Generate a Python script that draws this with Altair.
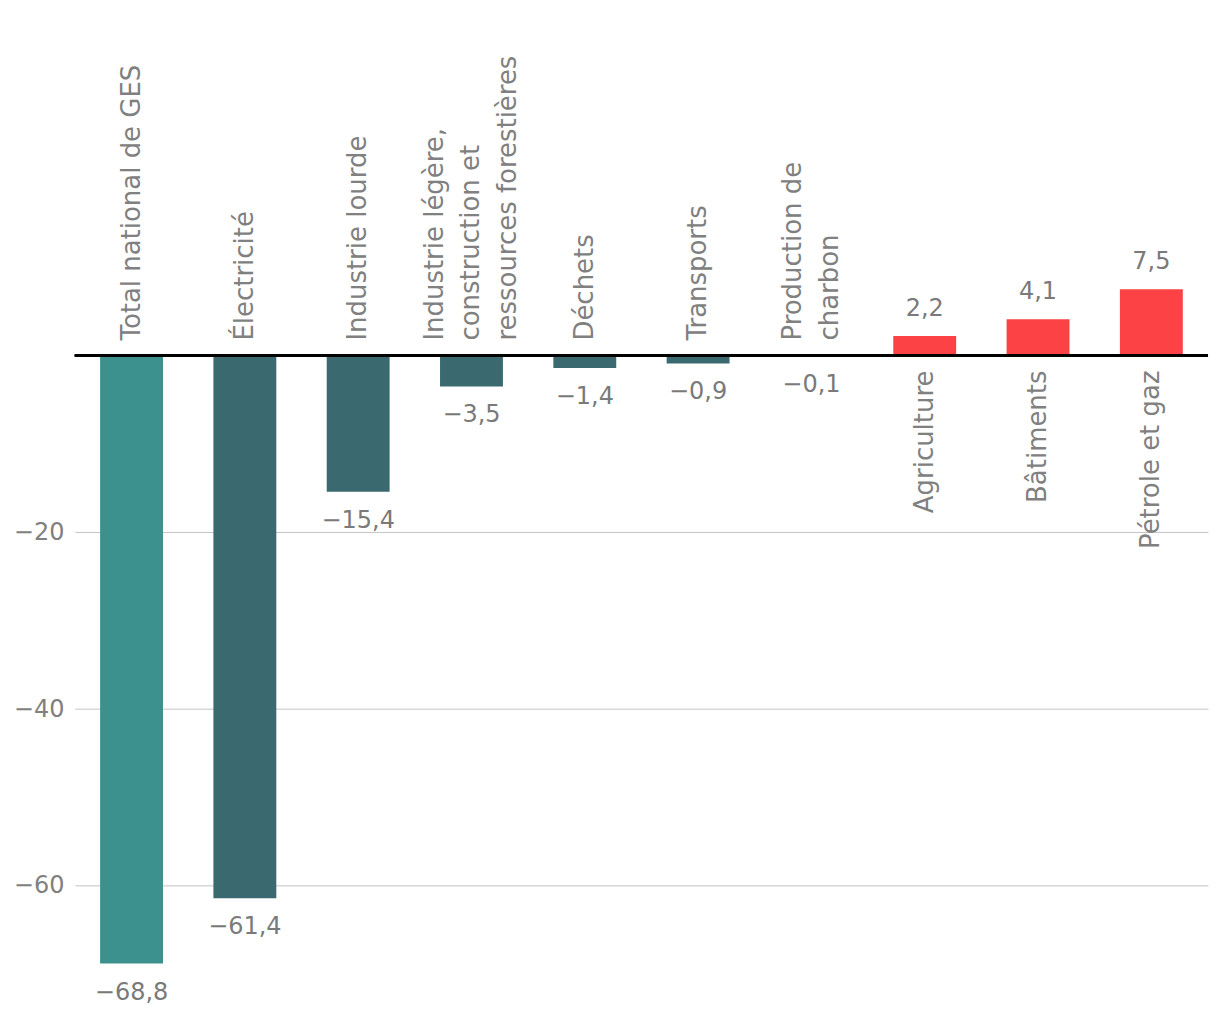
import altair as alt
import pandas as pd

categories = [
    "Total national de GES",
    "Électricité",
    "Industrie lourde",
    "Industrie légère,\nconstruction et\nressources forestières",
    "Déchets",
    "Transports",
    "Production de\ncharbon",
    "Agriculture",
    "Bâtiments",
    "Pétrole et gaz",
]
values = [-68.8, -61.4, -15.4, -3.5, -1.4, -0.9, -0.1, 2.2, 4.1, 7.5]
groups = ["total", "baisse", "baisse", "baisse", "baisse", "baisse", "baisse",
          "hausse", "hausse", "hausse"]
y_ticks = [-60, -40, -20]

group_domain = ["total", "baisse", "hausse"]
group_colors = ["#3c918e", "#3a6970", "#fc4245"]

FONT = "DejaVu Sans"
FS_CAT = 26
FS_VAL = 24
FS_AX = 24
LH = 37


def fr(v):
    return f"{v:.1f}".replace(".", ",").replace("-", "\u2212")


df = pd.DataFrame({
    "cat": categories,
    "value": values,
    "group": groups,
    "label": [fr(v) for v in values],
    "nlines": [c.count("\n") + 1 for c in categories],
})

x = alt.X("cat:N", sort=categories, axis=None,
          scale=alt.Scale(paddingInner=0.445, paddingOuter=0.2225))

base = alt.Chart(df)

bars = base.mark_bar().encode(
    x=x,
    y=alt.Y("value:Q",
            scale=alt.Scale(domain=[-70, 39], nice=False, zero=True),
            axis=alt.Axis(values=y_ticks, grid=True, gridColor="#c4c4c4",
                          gridWidth=1, domain=False, ticks=False,
                          labelFontSize=FS_AX, labelColor="#808080",
                          labelFont=FONT, labelPadding=11, title=None)),
    color=alt.Color("group:N", scale=alt.Scale(domain=group_domain, range=group_colors),
                    legend=None),
)

zero = base.mark_rule(color="black", strokeWidth=2).encode(y=alt.datum(0))

neg_vals = base.transform_filter("datum.value < 0").mark_text(
    font=FONT, fontSize=FS_VAL, color="#7a7a7a", baseline="middle", dy=29
).encode(x=x, y="value:Q", text="label:N")

pos_vals = base.transform_filter("datum.value >= 0").mark_text(
    font=FONT, fontSize=FS_VAL, color="#7a7a7a", baseline="middle", dy=-27
).encode(x=x, y="value:Q", text="label:N")

cat_layers = []
for n in (1, 2, 3):
    cat_layers.append(
        base.transform_filter(f"datum.value < 0 && datum.nlines == {n}").mark_text(
            font=FONT, fontSize=FS_CAT, color="#808080", angle=270, align="left",
            baseline="middle", dx=15, dy=-(n - 1) * LH / 2,
            lineBreak="\n", lineHeight=LH
        ).encode(x=x, y=alt.datum(0), text="cat:N")
    )

pos_cats = base.transform_filter("datum.value >= 0").mark_text(
    font=FONT, fontSize=FS_CAT, color="#808080", angle=270, align="right",
    baseline="middle", dx=-15, lineBreak="\n", lineHeight=LH
).encode(x=x, y=alt.datum(0), text="cat:N")

chart = alt.layer(bars, zero, neg_vals, pos_vals, *cat_layers, pos_cats).properties(
    width=1135,
    height=965,
    autosize=alt.AutoSizeParams(type="none"),
    padding={"left": 67, "top": 2, "right": 4, "bottom": 36},
).configure(background="white").configure_view(stroke=None)

chart.save("out.html", embed_options={"renderer": "svg", "actions": False})
